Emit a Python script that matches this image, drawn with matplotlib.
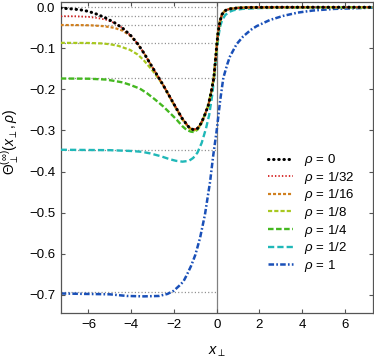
import numpy as np
import matplotlib
matplotlib.use("Agg")
import matplotlib.pyplot as plt

plt.rcParams['font.family'] = ['Liberation Sans', 'DejaVu Sans']
plt.rcParams['mathtext.fontset'] = 'custom'
plt.rcParams['mathtext.rm'] = 'Liberation Sans'
plt.rcParams['mathtext.it'] = 'Liberation Sans:italic'
plt.rcParams['mathtext.fallback'] = 'stixsans'
plt.rcParams['lines.scale_dashes'] = False

# ---- data ----
# right-hand part shared by rho <= 1/4 (the curves sit on top of each other there)
x_tail = [-0.6, -0.4, -0.25, -0.13, 0.0, 0.06, 0.15, 0.25, 0.4, 0.6, 1.0, 1.5, 3.0, 7.3]
y_tail = [-0.268, -0.240, -0.205, -0.170, -0.095, -0.063, -0.035, -0.017, -0.008, -0.004,
          -0.0015, -0.0005, 0.0, 0.0]

x_r0 = [-7.3, -6.8, -6.4, -6.0, -5.6, -5.2, -4.8, -4.4, -4.0, -3.7, -3.4, -3.0, -2.5, -2.0,
        -1.6, -1.3, -1.1, -0.9, -0.75]
y_r0 = [-0.002, -0.004, -0.006, -0.010, -0.017, -0.026, -0.037, -0.051, -0.070, -0.089,
        -0.112, -0.147, -0.190, -0.236, -0.272, -0.292, -0.298, -0.295, -0.284]

x_r32 = [-7.3, -6.6, -6.0, -5.6, -5.2, -4.8]
y_r32 = [-0.0217, -0.022, -0.0235, -0.026, -0.030, -0.038]

x_r16 = [-7.3, -6.4, -5.9, -5.3, -4.8, -4.4, -4.0]
y_r16 = [-0.0433, -0.0435, -0.044, -0.046, -0.050, -0.057, -0.071]

x_r8 = [-7.3, -6.0, -5.4, -5.0, -4.6, -4.05, -3.7, -3.43, -2.96, -2.49, -2.1, -1.87, -1.6,
        -1.3, -1.1, -0.9, -0.75]
y_r8 = [-0.0867, -0.087, -0.088, -0.090, -0.094, -0.104, -0.115, -0.128, -0.157, -0.191,
        -0.228, -0.250, -0.274, -0.294, -0.301, -0.297, -0.285]

x_r4 = [-7.3, -6.0, -5.6, -5.2, -4.83, -4.4, -4.05, -3.6, -3.27, -2.9, -2.49, -2.1, -1.87,
        -1.6, -1.4, -1.2, -1.05, -0.9, -0.75]
y_r4 = [-0.1735, -0.174, -0.175, -0.176, -0.179, -0.183, -0.189, -0.198, -0.209, -0.224,
        -0.242, -0.262, -0.274, -0.290, -0.299, -0.303, -0.304, -0.298, -0.287]

x_r2 = [-7.3, -5.0, -4.0, -3.5, -3.1, -2.6, -2.2, -1.9, -1.6, -1.3, -1.1, -0.9, -0.7, -0.5,
        -0.35, -0.2, -0.1, 0.0, 0.1, 0.16, 0.25, 0.4, 0.6, 0.8, 1.2, 2.0, 3.5, 7.3]
y_r2 = [-0.347, -0.348, -0.350, -0.352, -0.356, -0.363, -0.370, -0.374, -0.376, -0.374,
        -0.367, -0.354, -0.330, -0.295, -0.262, -0.210, -0.160, -0.104, -0.065, -0.047,
        -0.032, -0.019, -0.011, -0.007, -0.004, -0.002, -0.0005, 0.0]

x_r1 = [-7.3, -5.0, -4.2, -3.4, -2.7, -2.3, -2.0, -1.75, -1.56, -1.4, -1.2, -1.0, -0.78,
        -0.55, -0.31, -0.16, 0.0, 0.16, 0.31, 0.5, 0.62, 0.93, 1.24, 1.6, 1.87, 2.49, 3.11,
        3.8, 4.5, 5.5, 7.3]
y_r1 = [-0.697, -0.699, -0.703, -0.704, -0.703, -0.698, -0.690, -0.678, -0.668, -0.652,
        -0.630, -0.603, -0.562, -0.505, -0.425, -0.360, -0.300, -0.228, -0.172, -0.138,
        -0.120, -0.090, -0.071, -0.055, -0.046, -0.031, -0.021, -0.013, -0.008, -0.004,
        -0.001]

rho_labels = ['0', '1/32', '1/16', '1/8', '1/4', '1/2', '1']
rho_vals = [0, 1/32, 1/16, 1/8, 1/4, 1/2, 1]
colors = ['black', '#d42020', '#d08020', '#a8c820', '#44b820', '#20b8b8', '#1a50b8']

# asymptotes for x -> -inf
asym = [-r * np.log(2) for r in rho_vals]

fig = plt.figure(figsize=(3.74, 3.58), dpi=100)
ax = fig.add_axes([0.1623, 0.1257, 0.8342, 0.8701])

for a in asym:
    ax.plot([-7.3, 0], [a, a], color='#8a8a8a', lw=0.9, dashes=(0.8, 1.6), zorder=1)
ax.axvline(0, color='#808080', lw=0.9, zorder=1)

styles = [
    dict(lw=2.2, dashes=(0.3, 3.4), dash_capstyle='round'),
    dict(lw=1.3, dashes=(1.0, 1.5)),
    dict(lw=1.6, dashes=(2.2, 1.4)),
    dict(lw=1.6, dashes=(3.0, 1.5)),
    dict(lw=1.7, dashes=(4.0, 1.8)),
    dict(lw=1.7, dashes=(4.5, 2.2)),
    dict(lw=1.8, dashes=(4.0, 1.6, 1.2, 1.6)),
]

xs = [x_r0 + x_tail, x_r32 + x_r0[6:] + x_tail, x_r16 + x_r0[9:] + x_tail,
      x_r8 + x_tail, x_r4 + x_tail, x_r2, x_r1]
ys = [y_r0 + y_tail, y_r32 + y_r0[6:] + y_tail, y_r16 + y_r0[9:] + y_tail,
      y_r8 + y_tail, y_r4 + y_tail, y_r2, y_r1]

handles = {}
for i in [6, 5, 4, 3, 2, 1, 0]:
    ln, = ax.plot(xs[i], ys[i], color=colors[i], zorder=2 + (6 - i), **styles[i])
    handles[i] = ln

ax.legend([handles[i] for i in range(7)], [r'$\rho$ = ' + s for s in rho_labels],
          loc='upper left', bbox_to_anchor=(0.665, 0.516), frameon=False,
          fontsize=9.5, handlelength=1.9, handletextpad=0.8, labelspacing=0.12,
          borderaxespad=0, borderpad=0)

ax.set_xlim(-7.3, 7.3)
ax.set_ylim(-0.7445, 0.014)
ax.set_xticks([-6, -4, -2, 0, 2, 4, 6])
ax.set_yticks(np.arange(-0.7, 0.01, 0.1))
ax.set_yticklabels(['\u22120.7', '\u22120.6', '\u22120.5', '\u22120.4', '\u22120.3',
                    '\u22120.2', '\u22120.1', '0.0'])
ax.tick_params(direction='in', top=True, right=True, length=3, width=0.8,
               color='#555555', labelsize=9.5, pad=4)
for s in ax.spines.values():
    s.set_color('#555555')
    s.set_linewidth(0.9)

ax.set_xlabel(r'$x_\perp$', fontsize=10.5, labelpad=10)
ax.set_ylabel(r'$\Theta_\perp^{(\infty)}(x_\perp,\rho)$', fontsize=10)
ax.yaxis.set_label_coords(-0.125, 0.55)

fig.savefig('out.png', dpi=100)
